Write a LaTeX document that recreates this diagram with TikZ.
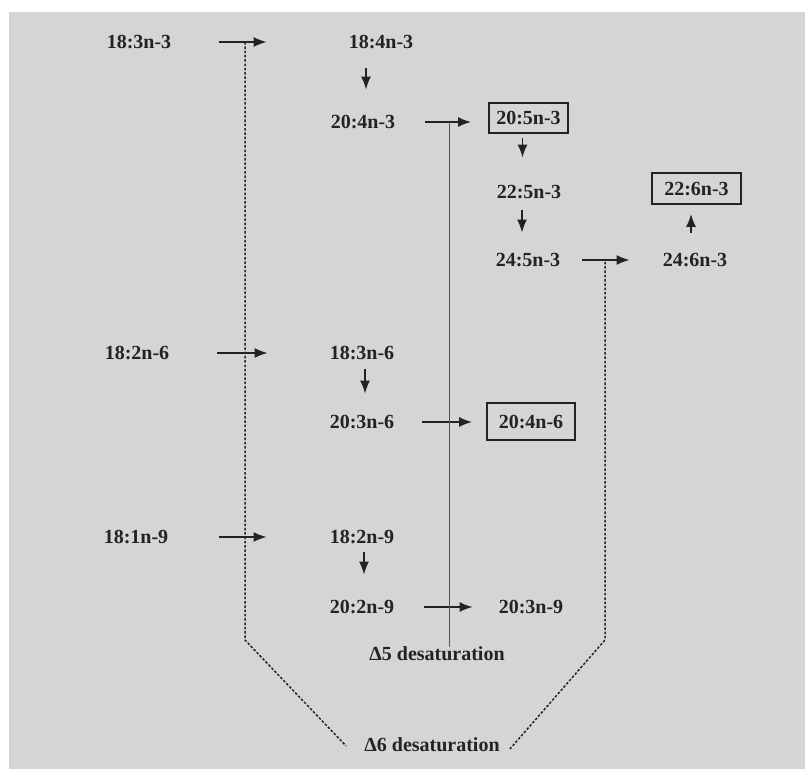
\documentclass[tikz,border=0pt]{standalone}
\usepackage{fontspec}
\setmainfont{Liberation Serif}
\usetikzlibrary{arrows.meta,calc}
\definecolor{bg}{RGB}{213,213,213}
\definecolor{ink}{RGB}{35,35,35}
\definecolor{linegray}{RGB}{85,85,85}
\begin{document}
\begin{tikzpicture}[x=1pt,y=-1pt,
  lbl/.style={inner sep=0pt, text height=13.5pt, text depth=0pt, text=ink,
              font=\fontsize{20}{24}\selectfont\bfseries},
  boxed/.style={lbl, draw=ink, line width=1.9pt},
  arr/.style={draw=ink, line width=1.6pt, -{Latex[length=13pt,width=10pt]}},
  dashsix/.style={draw=ink, line width=1.5pt, dash pattern=on 2.5pt off 1.8pt},
  solidfive/.style={draw=linegray, line width=1pt}]
\useasboundingbox (0,0) rectangle (805,769);
\fill[white] (0,0) rectangle (805,769);
\fill[bg] (9,12) rectangle (805,769);

% n-3 family
\node[lbl] (a1) at (139,42) {18:3n-3};
\node[lbl] (a2) at (381,42) {18:4n-3};
\node[lbl] (a3) at (363,122) {20:4n-3};
\node[boxed, minimum width=79pt, minimum height=30pt] (a4) at (528.5,118) {20:5n-3};
\node[lbl] (a5) at (529,192) {22:5n-3};
\node[lbl] (a6) at (528,260) {24:5n-3};
\node[lbl] (a7) at (695,260) {24:6n-3};
\node[boxed, minimum width=89pt, minimum height=31pt] (a8) at (696.5,188.5) {22:6n-3};

% n-6 family
\node[lbl] (b1) at (137,353) {18:2n-6};
\node[lbl] (b2) at (362,353) {18:3n-6};
\node[lbl] (b3) at (362,422) {20:3n-6};
\node[boxed, minimum width=88pt, minimum height=37pt] (b4) at (531,421.5) {20:4n-6};

% n-9 family
\node[lbl] (c1) at (136,537) {18:1n-9};
\node[lbl] (c2) at (362,537) {18:2n-9};
\node[lbl] (c3) at (362,607) {20:2n-9};
\node[lbl] (c4) at (531,607) {20:3n-9};

% labels
\node[lbl] (d5) at (437,654) {Δ5 desaturation};
\node[lbl] (d6) at (432,745) {Δ6 desaturation};

% horizontal arrows
\draw[arr, shorten <=48pt, shorten >=82pt] (a1.east) -- (a2.west);
\draw[arr, shorten <=30pt, shorten >=17pt] (a3.east) -- (a3.east -| a4.west);
\draw[arr, shorten <=22pt, shorten >=33pt] (a6.east) -- (a7.west);
\draw[arr, shorten <=48pt, shorten >=62pt] (b1.east) -- (b2.west);
\draw[arr, shorten <=28pt, shorten >=14pt] (b3.east) -- (b3.east -| b4.west);
\draw[arr, shorten <=51pt, shorten >=63pt] (c1.east) -- (c2.west);
\draw[arr, shorten <=30pt, shorten >=26pt] (c3.east) -- (c4.west);

% vertical arrows
\draw[arr, shorten <=19.5pt, shorten >=25.5pt] ([xshift=3pt]a2.south -| a3.north) -- ([xshift=3pt]a3.north);
\draw[arr, shorten <=4pt, shorten >=27.5pt] ([xshift=-6pt]a4.south) -- ([xshift=-6pt]a4.south |- a5.north);
\draw[arr, shorten <=11.5pt, shorten >=20.5pt] ([xshift=-7pt]a5.south) -- ([xshift=-7pt]a5.south |- a6.north);
\draw[arr, shorten <=20.5pt, shorten >=9pt] ([xshift=-4pt]a7.north) -- ([xshift=-4pt]a7.north |- a8.south);
\draw[arr, shorten <=9.5pt, shorten >=21.5pt] ([xshift=3pt]b2.south) -- ([xshift=3pt]b3.north);
\draw[arr, shorten <=8.5pt, shorten >=25.5pt] ([xshift=2pt]c2.south) -- ([xshift=2pt]c3.north);

% delta-5 line
\coordinate (l5a) at (449.5,122);
\draw[solidfive] (l5a) -- (l5a |- d5.north);

% delta-6 lines
\coordinate (l6a) at (245,42);
\coordinate (l6b) at (245,640);
\coordinate (r6a) at (605,260);
\coordinate (r6b) at (605,640);
\draw[dashsix] (l6a) -- (l6b) -- ($(d6.west)+(-18,1)$);
\draw[dashsix] ($(d6.east)+(10,4)$) -- (r6b) -- (r6a);
\end{tikzpicture}
\end{document}
